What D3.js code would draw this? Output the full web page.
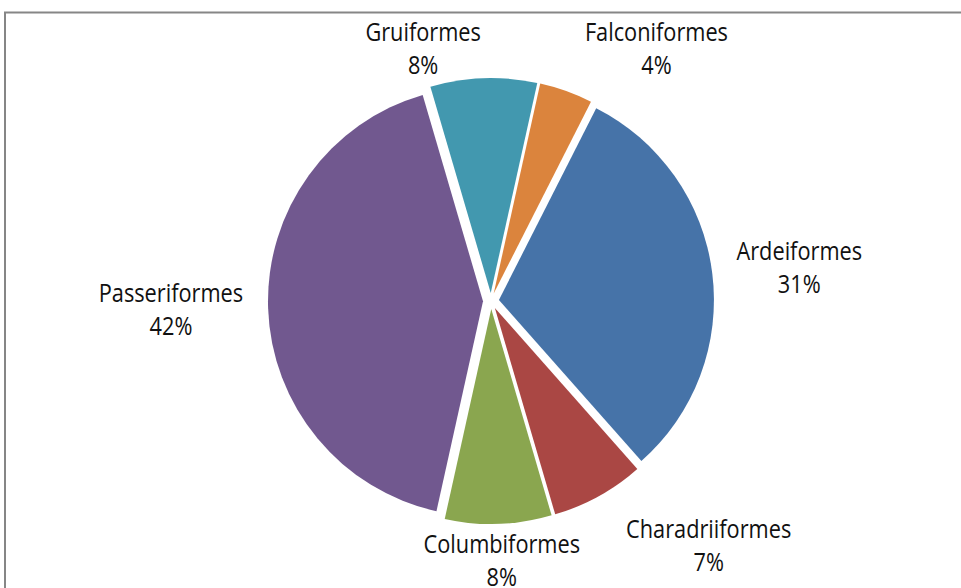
<!DOCTYPE html>
<html lang="fr">
<head>
  <meta charset="UTF-8" />
  <title>Ordres</title>
  <script src="https://d3js.org/d3.v7.min.js"></script>
  <style>
    html, body { margin: 0; padding: 0; background: #fff; }
    svg { display: block; }
    .lbl { font-family: "Open Sans", sans-serif; font-size: 25px; fill: #111; }
  </style>
</head>
<body>
<svg width="961" height="588"></svg>
<script>
  // Données (ordre horaire)
  const ordres = ["Falconiformes", "Ardeiformes", "Charadriiformes", "Columbiformes", "Passeriformes", "Gruiformes"];
  const pourcents = [4, 31, 7, 8, 42, 8];
  const couleurs = ["#DB843D", "#4673A8", "#AA4744", "#8AA64F", "#71588F", "#4298AF"];

  const svg = d3.select("svg");
  const cx = 491, cy = 301, R = 215, explode = 8;
  const start = 12.5 * Math.PI / 180;
  const sx = 0.87; // police resserrée (type Calibri)

  // cadre
  svg.append("rect")
    .attr("x", 5).attr("y", 12.5)
    .attr("width", 1000).attr("height", 600)
    .attr("fill", "none")
    .attr("stroke", "#868686")
    .attr("stroke-width", 2);

  const data = ordres.map((o, i) => ({ ordre: o, val: pourcents[i], color: couleurs[i] }));

  const pie = d3.pie().sort(null).value(d => d.val)
    .startAngle(start).endAngle(start + 2 * Math.PI);
  const arc = d3.arc().innerRadius(0).outerRadius(R);
  const arcs = pie(data);

  const g = svg.append("g").attr("transform", `translate(${cx},${cy})`);

  g.selectAll("path")
    .data(arcs)
    .enter()
    .append("path")
    .attr("d", arc)
    .attr("fill", d => d.data.color)
    .attr("transform", d => {
      const m = (d.startAngle + d.endAngle) / 2;
      return `translate(${explode * Math.sin(m)},${-explode * Math.cos(m)})`;
    });

  // Étiquettes : nom + pourcentage
  const gx = 25, gy = 4, h = 66, rowGap = 104, sideGap = 46;
  const labels = g.selectAll(".lab")
    .data(arcs)
    .enter()
    .append("g")
    .attr("class", "lab");

  labels.append("text").attr("class", "lbl name")
    .attr("text-anchor", "middle").attr("y", -7.5)
    .attr("transform", `scale(${sx},1)`)
    .text(d => d.data.ordre);
  labels.append("text").attr("class", "lbl pct")
    .attr("text-anchor", "middle").attr("y", 25.5)
    .attr("transform", `scale(${sx},1)`)
    .text(d => d.data.val + "%");

  const pos = [];
  labels.each(function(d) {
    const m = (d.startAngle + d.endAngle) / 2;
    const s = Math.sin(m), c = Math.cos(m);
    const w = d3.select(this).select(".name").node().getComputedTextLength() * sx;
    const px = (R + explode) * s, py = -(R + explode) * c;
    pos.push({ x: px + s * (w / 2 + gx), y: py - c * (h / 2 + gy), w: w, s: s, node: this });
  });

  for (let i = 0; i < pos.length; i++) {
    for (let j = i + 1; j < pos.length; j++) {
      const a = pos[i], b = pos[j];
      const dy = Math.abs(a.y - b.y);
      if (dy >= h) continue;
      const dx = b.x - a.x;
      const dir = dx >= 0 ? 1 : -1;
      if (dy < h / 2 - 3) {
        // presque sur la même ligne : alignées et écartées
        const need = a.w / 2 + b.w / 2 + rowGap;
        if (Math.abs(dx) < need) {
          const push = (need - Math.abs(dx)) / 2 * dir;
          a.x -= push; b.x += push;
          const my = (a.y + b.y) / 2;
          a.y = my; b.y = my;
        }
      } else {
        // décalées : seule l'étiquette la plus latérale s'écarte
        const need = a.w / 2 + b.w / 2 + sideGap;
        if (Math.abs(dx) < need) {
          const outer = Math.abs(a.s) > Math.abs(b.s) ? a : b;
          const sign = outer === b ? dir : -dir;
          outer.x += (need - Math.abs(dx)) * sign;
          outer.y += (h - dy) / 2;
        }
      }
    }
  }

  pos.forEach(p => d3.select(p.node).attr("transform", `translate(${p.x},${p.y})`));
</script>
</body>
</html>
